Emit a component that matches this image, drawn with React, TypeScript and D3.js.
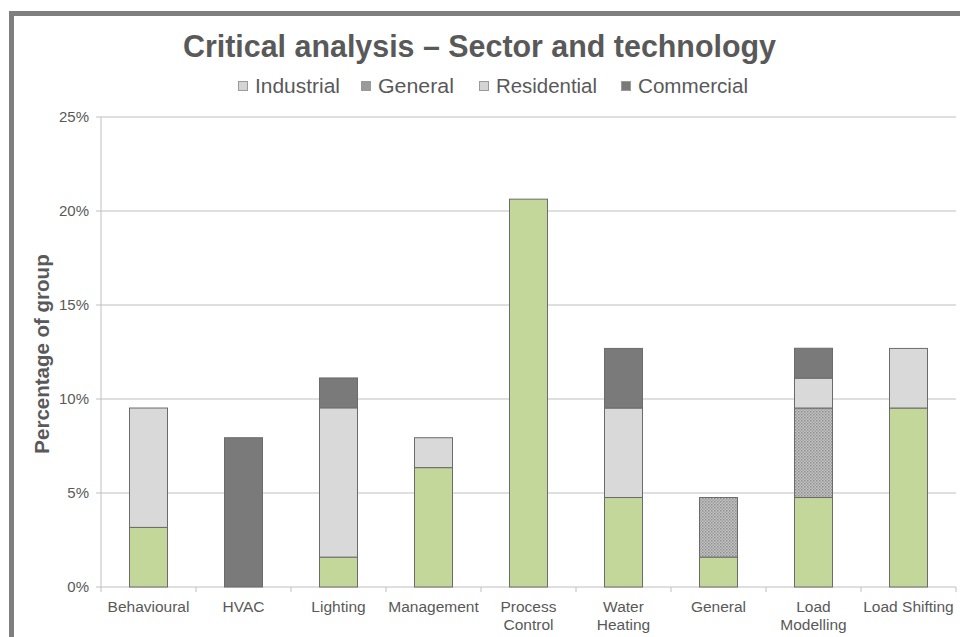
import React from "react";
import * as d3 from "d3";

const categories: string[][] = [
  ["Behavioural"],
  ["HVAC"],
  ["Lighting"],
  ["Management"],
  ["Process", "Control"],
  ["Water", "Heating"],
  ["General"],
  ["Load", "Modelling"],
  ["Load Shifting"],
];
const seriesNames = ["Industrial", "General", "Residential", "Commercial"];
const industrial = [3.17, 0, 1.59, 6.35, 20.63, 4.76, 1.59, 4.76, 9.52];
const general = [0, 0, 0, 0, 0, 0, 3.17, 4.76, 0];
const residential = [6.35, 0, 7.94, 1.59, 0, 4.76, 0, 1.59, 3.17];
const commercial = [0, 7.94, 1.59, 0, 0, 3.17, 0, 1.59, 0];
const yTicks = [0, 5, 10, 15, 20, 25];

const W = 960, H = 637;
const M = { left: 101, right: 956, top: 117, bottom: 587 };

export default function App() {
  const x = d3.scaleBand<number>().domain(d3.range(categories.length)).range([M.left, M.right]).paddingInner(0.6).paddingOuter(0.3);
  const step = x.step();
  const y = d3.scaleLinear().domain([0, 25]).range([M.bottom, M.top]);
  const rows = categories.map((_, i) => ({
    Industrial: industrial[i], General: general[i], Residential: residential[i], Commercial: commercial[i],
  }));
  const stack = d3.stack<any>().keys(seriesNames)(rows);
  const fills: Record<string, string> = {
    Industrial: "#c4d79b",
    General: "url(#dots)",
    Residential: "#d9d9d9",
    Commercial: "#7a7a7a",
  };
  const legendFill: Record<string, string> = {
    Industrial: "#d4d4d4",
    General: "#9a9a9a",
    Residential: "#d4d4d4",
    Commercial: "#7a7a7a",
  };
  const legendX = [243, 366, 484, 626];
  const legendW = [85, 76, 101, 110];
  const font = "Liberation Sans, Arial, sans-serif";
  return (
    <svg width={W} height={H} style={{ position: "absolute", left: 0, top: 0, background: "#fff" }} fontFamily={font}>
      <defs>
        <pattern id="dots" width="3" height="3" patternUnits="userSpaceOnUse">
          <rect width="3" height="3" fill="#c4c4c4" />
          <rect x="0" y="0" width="1.5" height="1.5" fill="#8f8f8f" />
          <rect x="1.5" y="1.5" width="1.5" height="1.5" fill="#a0a0a0" />
        </pattern>
      </defs>
      <rect x={0} y={0} width={W} height={H} fill="#fff" />
      <path d={`M11.5,${H} V13.5 H${W}`} fill="none" stroke="#7f7f7f" strokeWidth={5} />
      <text x={183} y={57} fontSize={32} fontWeight="bold" fill="#595959" textLength={593} lengthAdjust="spacingAndGlyphs">
        Critical analysis – Sector and technology
      </text>
      {seriesNames.map((s, i) => (
        <g key={s}>
          <rect x={legendX[i] - 4.5} y={81.5} width={9} height={9} fill={legendFill[s]} stroke="#9a9a9a" strokeWidth={1} />
          <text x={legendX[i] + 12} y={93} fontSize={20.5} fill="#595959" textLength={legendW[i]} lengthAdjust="spacingAndGlyphs">{s}</text>
        </g>
      ))}
      {yTicks.map((t) => (
        <g key={t}>
          <line x1={M.left - 5} x2={M.right} y1={y(t)} y2={y(t)} stroke="#bfbfbf" strokeWidth={1} />
          <text x={M.left - 12} y={y(t) + 5} textAnchor="end" fontSize={15} fill="#595959">{t}%</text>
        </g>
      ))}
      <line x1={M.left} x2={M.left} y1={M.top} y2={M.bottom} stroke="#bfbfbf" />
      {d3.range(categories.length + 1).map((i) => (
        <line key={i} x1={M.left + i * step} x2={M.left + i * step} y1={M.bottom} y2={M.bottom + 5} stroke="#bfbfbf" />
      ))}
      {stack.map((layer) => (
        <g key={layer.key}>
          {layer.map((d, i) =>
            d[1] - d[0] > 0 ? (
              <rect key={i} x={x(i)!} width={x.bandwidth()} y={y(d[1])} height={y(d[0]) - y(d[1])}
                fill={fills[layer.key]} stroke="#6b6b6b" strokeWidth={1} />
            ) : null
          )}
        </g>
      ))}
      {categories.map((lines, i) => (
        <text key={i} x={x(i)! + x.bandwidth() / 2} y={612} textAnchor="middle" fontSize={15.5} fill="#595959">
          {lines.map((l, j) => (
            <tspan key={j} x={x(i)! + x.bandwidth() / 2} dy={j === 0 ? 0 : 18}>{l}</tspan>
          ))}
        </text>
      ))}
      <text transform={`translate(49,354) rotate(-90)`} textAnchor="middle" fontSize={20.5} fontWeight="bold" fill="#595959">
        Percentage of group
      </text>
    </svg>
  );
}
